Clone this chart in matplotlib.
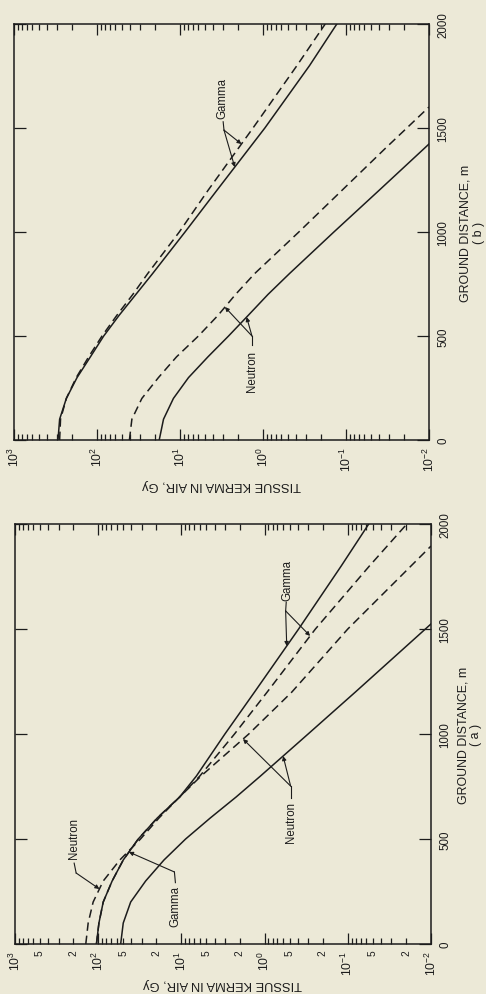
import numpy as np
import matplotlib.pyplot as plt
from matplotlib.ticker import LogLocator, FuncFormatter, NullFormatter, FixedLocator, NullLocator

plt.rcParams['font.family'] = ['Liberation Sans', 'DejaVu Sans']
plt.rcParams['font.size'] = 8

BG = '#ece9d7'
INK = '#1c1c1c'

# ---- data (ground distance in m, tissue kerma in Gy) ----
# panel (a)
a_gam_sol_d = [0, 100, 200, 300, 400, 500, 600, 700, 800, 1000, 1200, 1500, 1800, 2000]
a_gam_sol_k = [105, 98, 87, 68, 50, 33, 19.5, 10.5, 6.6, 3.0, 1.32, 0.39, 0.12, 0.056]
a_gam_das_d = [0, 100, 200, 300, 400, 500, 600, 700, 800, 1000, 1200, 1500, 1800, 2000]
a_gam_das_k = [105, 98, 87, 68, 50, 33, 19.5, 10.5, 6.0, 2.3, 0.93, 0.245, 0.055, 0.0195]
a_neu_sol_d = [0, 100, 200, 300, 400, 500, 600, 700, 800, 1000, 1200, 1524]
a_neu_sol_k = [53.7, 50, 40.7, 26.9, 16.2, 8.9, 4.5, 2.2, 1.12, 0.30, 0.081, 0.01]
a_neu_das_d = [0, 100, 200, 300, 400, 500, 600, 700, 800, 1000, 1200, 1500, 1800, 1895]
a_neu_das_k = [141, 132, 115, 87, 55, 31, 18.6, 10.5, 5.8, 1.55, 0.47, 0.10, 0.0174, 0.01]

# panel (b)
b_gam_sol_d = [0, 100, 200, 300, 400, 500, 600, 700, 800, 1000, 1200, 1500, 1800, 2000]
b_gam_sol_k = [295, 282, 234, 174, 120, 83, 54, 34, 21.4, 8.7, 3.6, 0.95, 0.275, 0.129]
b_gam_das_d = [0, 100, 200, 300, 400, 500, 600, 700, 800, 1000, 1200, 1500, 1800, 2000]
b_gam_das_k = [282, 275, 234, 178, 126, 87, 57.5, 37, 24.5, 10.2, 4.6, 1.32, 0.39, 0.178]
b_neu_sol_d = [0, 100, 200, 300, 400, 500, 600, 700, 800, 1000, 1200, 1423]
b_neu_sol_k = [17.8, 15.8, 12.0, 7.9, 4.6, 2.6, 1.5, 0.87, 0.48, 0.14, 0.04, 0.01]
b_neu_das_d = [0, 100, 200, 300, 400, 500, 600, 700, 800, 1000, 1200, 1400, 1601]
b_neu_das_k = [40.7, 38, 28.8, 18.2, 11.0, 6.0, 3.47, 2.14, 1.26, 0.37, 0.112, 0.034, 0.01]

dist_ticks = [0, 500, 1000, 1500, 2000]
dist_labels = ['0', '500', '1000', '1500', '2000']

DASH = (0, (5.5, 3.2))


def on_curve(d, ds, ks):
    return 10 ** np.interp(d, ds, np.log10(ks))


def minor_fmt(v, pos):
    m = int(round(v / 10 ** np.floor(np.log10(v) + 1e-9)))
    return str(m) if m in (2, 5) else ''


def setup(ax, minor_labels):
    ax.set_facecolor(BG)
    ax.set_xscale('log')
    ax.set_xlim(1e3, 1e-2)
    ax.set_ylim(0, 2000)
    ax.xaxis.set_major_locator(LogLocator(base=10, numticks=10))
    ax.xaxis.set_minor_locator(LogLocator(base=10, subs=np.arange(2, 10), numticks=20))
    if minor_labels:
        ax.xaxis.set_minor_formatter(FuncFormatter(minor_fmt))
    else:
        ax.xaxis.set_minor_formatter(NullFormatter())
    ax.yaxis.set_major_locator(FixedLocator(dist_ticks))
    ax.yaxis.set_minor_locator(NullLocator())
    ax.set_yticklabels(dist_labels)
    ax.tick_params(axis='x', which='both', direction='in', top=True, bottom=True,
                   labelrotation=90, pad=4, color=INK, labelcolor=INK, width=0.9)
    ax.tick_params(axis='x', which='major', length=8, labelsize=8.8)
    ax.tick_params(axis='x', which='minor', length=4.5, labelsize=7.3)
    ax.tick_params(axis='y', which='major', direction='in', left=True, right=True,
                   labelleft=False, labelright=True, labelrotation=90, length=8.5,
                   pad=6, color=INK, labelcolor=INK, width=0.9, labelsize=8.3)
    for lbl in ax.get_yticklabels():
        lbl.set_va('center')
    for s in ax.spines.values():
        s.set_color(INK)
        s.set_linewidth(1.1)


def callout(ax, text, text_xy, lead, joint, targets):
    ax.text(text_xy[0], text_xy[1], text, rotation=90, ha='center', va='center',
            color=INK, fontsize=8.3)
    ax.plot([lead[0], joint[0]], [lead[1], joint[1]], color=INK, lw=0.8)
    for t in targets:
        ax.annotate('', xy=t, xytext=joint,
                    arrowprops=dict(arrowstyle='-|>', color=INK, lw=0.8,
                                    mutation_scale=6, shrinkA=0, shrinkB=0))


fig = plt.figure(figsize=(4.86, 9.95), dpi=100, facecolor=BG)
ax_b = fig.add_axes([14 / 486, 1 - 441 / 995, 415 / 486, 416 / 995])
ax_a = fig.add_axes([15 / 486, 1 - 945 / 995, 416 / 486, 420 / 995])

# ---- panel (b) ----
setup(ax_b, False)
ax_b.plot(b_gam_sol_k, b_gam_sol_d, color=INK, lw=1.1)
ax_b.plot(b_gam_das_k, b_gam_das_d, color=INK, lw=1.1, linestyle=DASH)
ax_b.plot(b_neu_sol_k, b_neu_sol_d, color=INK, lw=1.1)
ax_b.plot(b_neu_das_k, b_neu_das_d, color=INK, lw=1.1, linestyle=DASH)

callout(ax_b, 'Gamma', (10 ** 0.494, 1649), (10 ** 0.48, 1530), (10 ** 0.47, 1490),
        [(on_curve(1312, b_gam_sol_d, b_gam_sol_k), 1312),
         (on_curve(1423, b_gam_das_d, b_gam_das_k), 1423)])
callout(ax_b, 'Neutron', (10 ** 0.133, 332), (10 ** 0.133, 455), (10 ** 0.133, 500),
        [(on_curve(639, b_neu_das_d, b_neu_das_k), 639),
         (on_curve(591, b_neu_sol_d, b_neu_sol_k), 591)])

ax_b.text(0.5, -0.105, 'TISSUE KERMA IN AIR, Gy', rotation=180, ha='center', va='center',
          transform=ax_b.transAxes, color=INK, fontsize=9.3)
ax_b.text(1.089, 0.5, 'GROUND DISTANCE, m', rotation=90, ha='center', va='center',
          transform=ax_b.transAxes, color=INK, fontsize=8.9)
ax_b.text(1.12, 0.5, '( b )', rotation=90, ha='center', va='center',
          transform=ax_b.transAxes, color=INK, fontsize=8.9)

# ---- panel (a) ----
setup(ax_a, True)
ax_a.plot(a_gam_sol_k, a_gam_sol_d, color=INK, lw=1.1)
ax_a.plot(a_gam_das_k, a_gam_das_d, color=INK, lw=1.1, linestyle=DASH)
ax_a.plot(a_neu_sol_k, a_neu_sol_d, color=INK, lw=1.1)
ax_a.plot(a_neu_das_k, a_neu_das_d, color=INK, lw=1.1, linestyle=DASH)

callout(ax_a, 'Neutron', (10 ** 2.289, 505), (10 ** 2.289, 385), (10 ** 2.265, 338),
        [(on_curve(262, a_neu_das_d, a_neu_das_k), 262)])
callout(ax_a, 'Gamma', (10 ** 1.072, 181), (10 ** 1.072, 292), (10 ** 1.084, 343),
        [(on_curve(438, a_gam_sol_d, a_gam_sol_k), 438)])
callout(ax_a, 'Neutron', (10 ** -0.313, 581), (10 ** -0.313, 695), (10 ** -0.313, 752),
        [(on_curve(976, a_neu_das_d, a_neu_das_k), 976),
         (on_curve(895, a_neu_sol_d, a_neu_sol_k), 895)])
callout(ax_a, 'Gamma', (10 ** -0.277, 1738), (10 ** -0.26, 1628), (10 ** -0.253, 1586),
        [(on_curve(1419, a_gam_sol_d, a_gam_sol_k), 1419),
         (on_curve(1467, a_gam_das_d, a_gam_das_k), 1467)])

ax_a.text(0.5, -0.093, 'TISSUE KERMA IN AIR, Gy', rotation=180, ha='center', va='center',
          transform=ax_a.transAxes, color=INK, fontsize=9.3)
ax_a.text(1.077, 0.5, 'GROUND DISTANCE, m', rotation=90, ha='center', va='center',
          transform=ax_a.transAxes, color=INK, fontsize=8.9)
ax_a.text(1.108, 0.5, '( a )', rotation=90, ha='center', va='center',
          transform=ax_a.transAxes, color=INK, fontsize=8.9)

fig.savefig('out.png', dpi=100, facecolor=BG)
